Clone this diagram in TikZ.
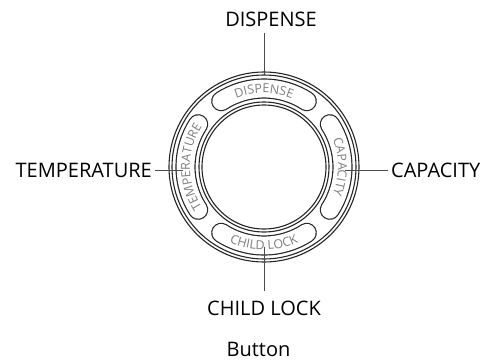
\documentclass[tikz,border=0pt]{standalone}
\usepackage{fontspec}
\setmainfont{Open Sans}
\usetikzlibrary{decorations.text}

\newcommand\pillfont{\fontsize{12.5}{14}\selectfont}

\begin{document}
\begin{tikzpicture}[
  x=1pt,y=1pt,
  every node/.style={font=\fontsize{20}{24}\selectfont},
  lbl/.style={text=black,inner sep=3pt},
  ring/.style={draw=black!85,line width=1.1pt},
  lead/.style={draw=black!70,line width=0.8pt},
  pillout/.style={black!85,line width=20.2pt,line cap=round},
  pillin/.style={white,line width=17.8pt,line cap=round},
  pilltext/.style={decorate,decoration={text along path,text align=center,
                   text color=black!50,text={|\pillfont|#1}}}
]
\useasboundingbox (-264,-193) rectangle (226,167);

%% button rings
\draw[ring] (0,0) circle[radius=95pt];
\draw[ring] (0,0) circle[radius=92pt];
\draw[ring] (0,0) circle[radius=65pt];
\draw[ring] (0,0) circle[radius=62pt];

%% pill slots
\foreach \a in {90,0,180,270} {
  \draw[pillout] (\a+33:78.5pt) arc[start angle=\a+33,end angle=\a-33,radius=78.5pt];
  \draw[pillin]  (\a+33:78.5pt) arc[start angle=\a+33,end angle=\a-33,radius=78.5pt];
}

%% text in the slots
\path[pilltext=DISPENSE]    (135:74pt) arc[start angle=135,end angle=45,radius=74pt];
\path[pilltext=CAPACITY]    (45:74pt)  arc[start angle=45,end angle=-45,radius=74pt];
\path[pilltext=TEMPERATURE] (225:74pt) arc[start angle=225,end angle=135,radius=74pt];
\path[pilltext=CHILD LOCK]  (225:83pt) arc[start angle=225,end angle=315,radius=83pt];

%% labels
\node[lbl,inner sep=5.5pt] (dispense) at (7,147.3) {DISPENSE};
\node[lbl,anchor=east] (temperature) at (-109,-3) {TEMPERATURE};
\node[lbl,anchor=west] (capacity) at (124,-3) {CAPACITY};
\node[lbl,inner sep=10pt] (childlock) at (0,-141.8) {CHILD LOCK};
\node[lbl,inner sep=1pt] (button) at (-5.5,-182) {Button};

%% leader ends on the button
\coordinate (dsp-end) at (90:92pt);
\coordinate (tmp-end) at (-81,-3);
\coordinate (cap-end) at (81,-3);
\coordinate (chl-end) at (270:80pt);

%% leaders
\draw[lead] (dsp-end |- dispense.south) -- (dsp-end);
\draw[lead] (temperature.east) -- (tmp-end);
\draw[lead] (capacity.west) -- (cap-end);
\draw[lead] (chl-end) -- (chl-end |- childlock.north);

\end{tikzpicture}
\end{document}
